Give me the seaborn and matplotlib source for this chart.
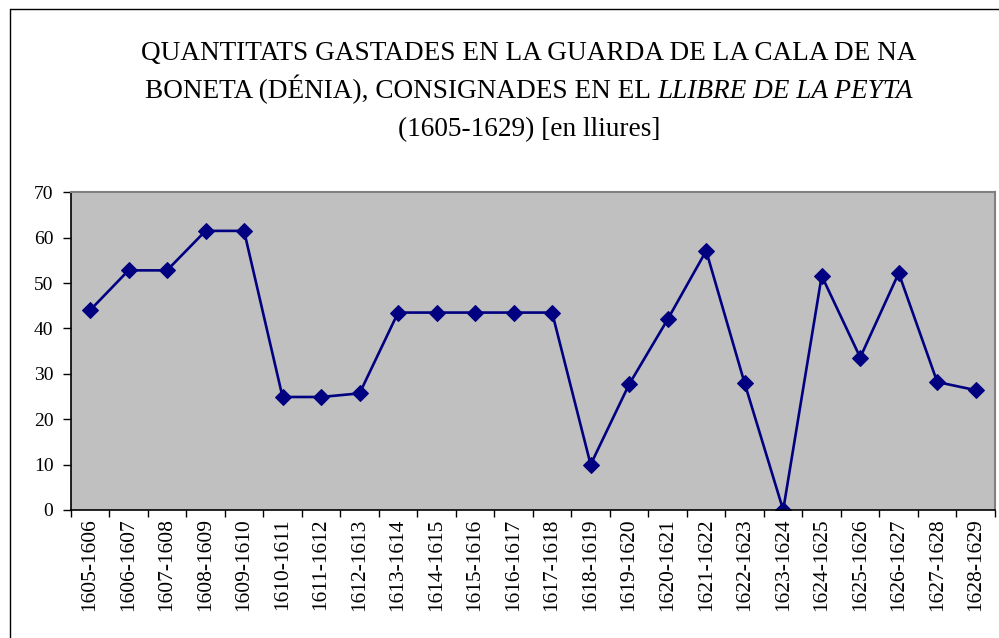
import matplotlib
matplotlib.use("Agg")
import matplotlib.pyplot as plt
import seaborn as sns
import pandas as pd
from matplotlib.lines import Line2D

periods = ["1605-1606", "1606-1607", "1607-1608", "1608-1609", "1609-1610",
           "1610-1611", "1611-1612", "1612-1613", "1613-1614", "1614-1615",
           "1615-1616", "1616-1617", "1617-1618", "1618-1619", "1619-1620",
           "1620-1621", "1621-1622", "1622-1623", "1623-1624", "1624-1625",
           "1625-1626", "1626-1627", "1627-1628", "1628-1629"]
values = [44.0, 52.8, 52.8, 61.5, 61.5, 24.9, 24.9, 25.7, 43.5, 43.5,
          43.5, 43.5, 43.5, 10.0, 27.7, 42.0, 57.1, 27.9, 0.0, 51.6,
          33.6, 52.2, 28.2, 26.4]
yticks = [0, 10, 20, 30, 40, 50, 60, 70]

title_line1 = "QUANTITATS GASTADES EN LA GUARDA DE LA CALA DE NA"
title_line2_a = "BONETA (DÉNIA), CONSIGNADES EN EL "
title_line2_b = "LLIBRE DE LA PEYTA"
title_line3 = "(1605-1629) [en lliures]"

df = pd.DataFrame({"period": periods, "value": values})

sns.set_theme(style="white")
plt.rcParams["font.family"] = ["Liberation Serif", "DejaVu Serif"]
plt.rcParams["text.color"] = "black"
plt.rcParams["xtick.color"] = "black"
plt.rcParams["ytick.color"] = "black"

W, H = 999, 638
fig = plt.figure(figsize=(W / 100, H / 100), dpi=100)
fig.patch.set_facecolor("white")

left, right, top, bottom = 70.75, 995.0, 192.3, 510.0
ax = fig.add_axes([left / W, 1 - bottom / H, (right - left) / W, (bottom - top) / H])
ax.set_facecolor("#C0C0C0")

sns.lineplot(data=df, x="period", y="value", ax=ax, sort=False,
             color="#000080", linewidth=1.9, marker="D", markersize=8.5,
             markeredgecolor="#000080", markerfacecolor="#000080", errorbar=None)

n = len(periods)
ax.set_xlim(-0.5, n - 0.5)
ax.set_ylim(0, 70)
ax.set_yticks(yticks)
ax.set_yticklabels([str(v) for v in yticks], fontsize=14, color="black")
ax.set_xticks(range(n))
ax.set_xticklabels(periods, rotation=90, fontsize=15.5, color="black")
ax.set_xticks([i - 0.5 for i in range(n + 1)], minor=True)
ax.tick_params(axis="x", which="major", length=0, pad=6)
ax.tick_params(axis="x", which="minor", length=5, width=1, color="black", direction="out", bottom=True)
ax.tick_params(axis="y", which="major", length=5.5, width=1, color="black", direction="out", left=True, pad=7)
ax.set_xlabel("")
ax.set_ylabel("")
ax.grid(False)

for s in ["left", "bottom"]:
    ax.spines[s].set_color("black")
    ax.spines[s].set_linewidth(1.2)
for s in ["top", "right"]:
    ax.spines[s].set_color("#808080")
    ax.spines[s].set_linewidth(1.5)

# outer chart border
fig.add_artist(Line2D([10 / W, 10 / W], [1 - 9 / H, 0], color="black", linewidth=1.0))
fig.add_artist(Line2D([10 / W, 1.0], [1 - 9 / H, 1 - 9 / H], color="black", linewidth=1.0))

# title
tfs = 19.6
cx = 529
fig.text(cx / W, 1 - 60 / H, title_line1, ha="center", va="baseline", fontsize=tfs, color="black")
fig.text(cx / W, 1 - 136 / H, title_line3, ha="center", va="baseline", fontsize=tfs, color="black")

fig.canvas.draw()
renderer = fig.canvas.get_renderer()
ta = fig.text(0, 1 - 98 / H, title_line2_a, ha="left", va="baseline", fontsize=tfs, color="black")
tb = fig.text(0, 1 - 98 / H, title_line2_b, ha="left", va="baseline", fontsize=tfs, style="italic", color="black")
wa = ta.get_window_extent(renderer).width
wb = tb.get_window_extent(renderer).width
x0 = cx - (wa + wb) / 2
ta.set_x(x0 / W)
tb.set_x((x0 + wa) / W)

fig.savefig("out.png", dpi=100)
